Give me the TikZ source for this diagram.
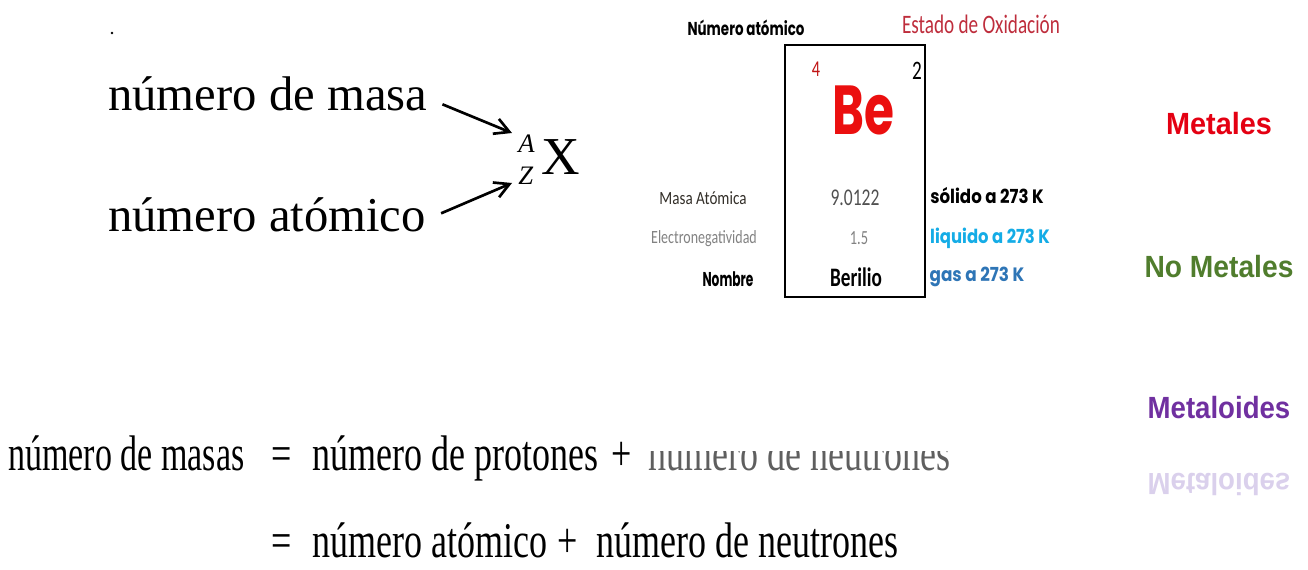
\documentclass[tikz,border=0pt]{standalone}
\usepackage{fontspec}
\setmainfont{Liberation Serif}
\newfontfamily\popf{Poppins}
\newfontfamily\calf{Carlito}
\newfontfamily\helf{Liberation Sans}
\usetikzlibrary{positioning}
\usetikzlibrary{arrows.meta}

\definecolor{oxred}{RGB}{190,45,60}
\definecolor{zred}{RGB}{192,20,20}
\definecolor{bered}{RGB}{235,15,15}
\definecolor{metred}{RGB}{228,0,18}
\definecolor{nmgreen}{RGB}{80,125,45}
\definecolor{mlpurple}{RGB}{112,48,160}
\definecolor{mlshadow}{RGB}{218,208,236}
\definecolor{liqblue}{RGB}{20,172,230}
\definecolor{gasblue}{RGB}{46,117,182}
\definecolor{eneggray}{RGB}{130,130,130}
\definecolor{valgray}{RGB}{80,80,80}
\definecolor{neugray}{RGB}{95,95,95}

\newcommand{\narrow}[2]{\scalebox{#1}[1]{#2}}

\begin{document}
\begin{tikzpicture}[x=0.75pt, y=-0.75pt, every node/.style={inner sep=0pt},
    big/.style={anchor=base west, font=\fontsize{36.5}{40}\selectfont},
    eq/.style={anchor=base west, font=\fontsize{37.5}{40}\selectfont},
    arr/.style={-{Straight Barb[length=11pt, width=12pt]}, line width=2pt},
    cell/.style={font=\calf\fontsize{#1}{#1}\selectfont},
    geo/.style={font=\popf\bfseries\fontsize{#1}{#1}\selectfont},
    kind/.style={font=\helf\bfseries\fontsize{23}{25}\selectfont}]
        \useasboundingbox (0,0) rectangle (1308,570);

        % Stray mark at the top left
        \fill (112,33) circle (1.3);

        % Notation of the nuclide
        \node[big] (masa) at (108,111) {número de masa};
        \node[big] (atomico) at (108,232) {número atómico};
        \node[anchor=base west, font=\fontsize{40}{42}\selectfont] (isoX) at (541,175) {X};
        \node[anchor=base west, font=\itshape\fontsize{20}{22}\selectfont] (isoA) at (518,153) {A};
        \node[anchor=base west, font=\itshape\fontsize{20}{22}\selectfont] (isoZ) at (518,185) {Z};
        \coordinate (tipA) at (512,133);
        \coordinate (tipZ) at (512,183);

        \draw[arr] ([shift={(15,10)}]masa.east) -- (tipA);
        \draw[arr] ([shift={(15,-2)}]atomico.east) -- (tipZ);

        % Cell of the periodic table
        \node[draw, line width=2.2pt, minimum width=105pt, minimum height=189pt] (cell) at (855,171) {};
        \node[geo=14] (numat) at (746,28) {\narrow{0.72}{Número atómico}};
        \node[cell=20, text=oxred] (estado) at (981,24) {\narrow{0.72}{Estado de Oxidación}};
        \node[cell=17, text=zred] (zval) at (816,69) {\narrow{0.72}{4}};
        \node[cell=20] (oxval) at (917,71) {\narrow{0.72}{2}};
        \node[font=\popf\bfseries\fontsize{52}{52}\selectfont, text=bered] (sym) at (863,110) {\narrow{0.7}{Be}};

        \node[cell=14, text=black!85!olive] (masalbl) at (703,198) {\narrow{0.81}{Masa Atómica}};
        \node[cell=18, text=valgray] (masaval) at (855,198) {\narrow{0.73}{9.0122}};
        \node[geo=14.5] (solido) at (987,196) {\narrow{0.86}{sólido a 273 K}};

        \node[cell=14, text=eneggray] (eneglbl) at (704,239) {\narrow{0.75}{Electronegatividad}};
        \node[cell=15, text=eneggray] (enegval) at (859,238) {\narrow{0.72}{1.5}};
        \node[geo=14.5, text=liqblue] (liquido) at (990,238) {\narrow{0.85}{liquido a 273 K}};

        \node[geo=15] (nombrelbl) at (728,279) {\narrow{0.61}{Nombre}};
        \node[font=\calf\bfseries\fontsize{20}{20}\selectfont] (nombre) at (856,277) {\narrow{0.72}{Berilio}};
        \node[geo=14.5, text=gasblue] (gas) at (977,277) {\narrow{0.87}{gas a 273 K}};

        % Kinds of elements
        \node[kind, text=metred] (metales) at (1219,124) {\narrow{0.94}{Metales}};
        \node[kind, text=nmgreen] (nometales) at (1219,267) {\narrow{0.92}{No Metales}};
        \node[kind, text=mlpurple] (metaloides) at (1219,408) {\narrow{0.9}{Metaloides}};
        \node[kind, text=mlshadow] (reflejo) at (1219,484) {\scalebox{0.9}[-1]{Metaloides}};

        % Mass number
        \node[eq] (lhs) at (8,470) {\narrow{0.68}{número de masas}};
        \node[eq] (eq1) at (271,470) {\narrow{0.72}{=}};
        \node[eq] (prot) at (312,470) {\narrow{0.72}{número de protones}};
        \node[eq] (plus1) at (611,470) {\narrow{0.72}{+}};
        \begin{scope}
          \clip (640,451) rectangle (1000,500);
          \node[eq, text=neugray] (neut1) at (648,470) {\narrow{0.72}{número de neutrones}};
        \end{scope}

        \node[eq] (eq2) at (271,557) {\narrow{0.72}{=}};
        \node[eq] (atnum) at (312,557) {\narrow{0.72}{número atómico}};
        \node[eq] (plus2) at (557,557) {\narrow{0.72}{+}};
        \node[eq] (neut2) at (596,557) {\narrow{0.72}{número de neutrones}};
\end{tikzpicture}
\end{document}
